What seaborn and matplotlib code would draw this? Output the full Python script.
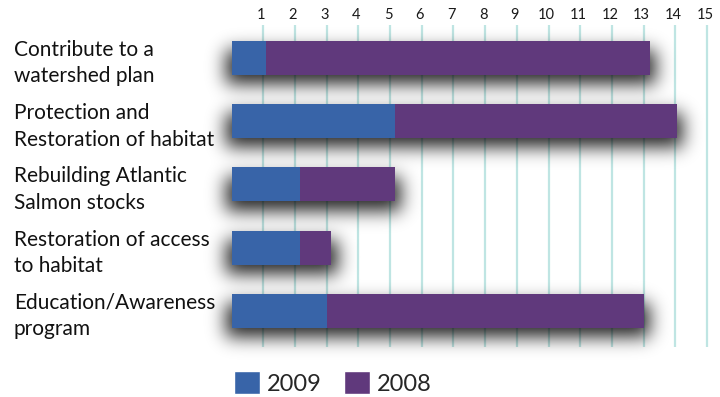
import matplotlib
matplotlib.use("Agg")
import matplotlib.pyplot as plt
import matplotlib.transforms as mtransforms
from matplotlib.patches import Patch
import seaborn as sns
import pandas as pd
import numpy as np

categories = ["Contribute to a\nwatershed plan",
              "Protection and\nRestoration of habitat",
              "Rebuilding Atlantic\nSalmon stocks",
              "Restoration of access\nto habitat",
              "Education/Awareness\nprogram"]
values_2009 = [1.1, 5.15, 2.15, 2.15, 3.0]
values_2008 = [12.1, 8.9, 3.0, 1.0, 10.0]
tick_values = list(range(1, 16))

BLUE = "#3864a8"
PURPLE = "#60397c"
GRID = "#bfe5e3"

df = pd.DataFrame({"category": categories,
                   "y2009": values_2009,
                   "y2008": values_2008})
df["total"] = df["y2009"] + df["y2008"]

sns.set_theme(style="white")
plt.rcParams["font.family"] = ["Lato", "DejaVu Sans"]

fig = plt.figure(figsize=(7.2, 3.97), dpi=100)
ax = fig.add_axes([231.6 / 720, 1 - 347 / 397, 483.4 / 720, 322 / 397])

sns.barplot(data=df, y="category", x="total", color=PURPLE, saturation=1,
            width=0.54, orient="h", errorbar=None, ax=ax, zorder=3)
n_total = len(ax.patches)
sns.barplot(data=df, y="category", x="y2009", color=BLUE, saturation=1,
            width=0.54, orient="h", errorbar=None, ax=ax, zorder=4)
for p in ax.patches:
    p.set_linewidth(0)

XLIM = (0, 15.25)
YLIM = (4.57, -0.52)
ax.set_xlim(*XLIM)
ax.set_ylim(*YLIM)

# ---- soft drop shadow: blur of the bar shapes (taken from the drawn patches)
bbox = ax.get_window_extent()
px_x = bbox.width / (XLIM[1] - XLIM[0])
px_y = bbox.height / (YLIM[0] - YLIM[1])
gx0, gx1, gy0, gy1 = -1.5, 15.9, -0.8, 5.2
xs = np.arange(gx0, gx1, 1 / px_x)
ys = np.arange(gy0, gy1, 1 / px_y)
XX, YY = np.meshgrid(xs, ys)
mask = np.zeros_like(XX)
drop = 9 / px_y
grow = 6 / px_x
for p in ax.patches[:n_total]:
    x, y, w, h = p.get_x(), p.get_y(), p.get_width(), p.get_height()
    mask[(XX >= x - grow) & (XX <= x + w + grow) &
         (YY >= y + drop) & (YY <= y + h + drop)] = 1.0
sigma = 9.0
k = np.arange(-3 * sigma, 3 * sigma + 1)
kern = np.exp(-k ** 2 / (2 * sigma ** 2))
kern /= kern.sum()
blur = np.apply_along_axis(lambda r: np.convolve(r, kern, mode="same"), 1, mask)
blur = np.apply_along_axis(lambda c: np.convolve(c, kern, mode="same"), 0, blur)
rgba = np.zeros(blur.shape + (4,))
rgba[..., 3] = np.clip(blur * 1.1, 0, 1) * 0.78
ax.imshow(rgba, extent=(gx0, gx1, gy1, gy0), origin="upper", aspect="auto",
          interpolation="bilinear", zorder=2, clip_on=False)
ax.set_xlim(*XLIM)
ax.set_ylim(*YLIM)

ax.set_xticks(tick_values)
ax.set_xticklabels([str(t) for t in tick_values])
ax.xaxis.tick_top()
ax.grid(axis="x", color=GRID, linewidth=1.6, zorder=0)
ax.grid(axis="y", visible=False)
ax.set_axisbelow(True)
for s in ax.spines.values():
    s.set_visible(False)
ax.set_xlabel("")
ax.set_ylabel("")
ax.tick_params(axis="x", length=0, pad=2.5, labelsize=10.5, colors="#1a1a1a")
ax.tick_params(axis="y", length=0, pad=156.7, labelsize=15, colors="#111111")
shift = mtransforms.ScaledTranslation(-1.5 / 72, 0, fig.dpi_scale_trans)
for lab in ax.get_xticklabels():
    lab.set_transform(lab.get_transform() + shift)
for lab in ax.get_yticklabels():
    lab.set_ha("left")
    lab.set_multialignment("left")
    lab.set_linespacing(1.4)

handles = [Patch(facecolor=BLUE, label="2009"), Patch(facecolor=PURPLE, label="2008")]
fig.legend(handles=handles, loc="center", bbox_to_anchor=(333 / 720, 1 - 383 / 397),
           ncol=2, frameon=False, fontsize=17, handlelength=1.1, handleheight=1.1,
           handletextpad=0.3, columnspacing=0.95, borderpad=0)

fig.savefig("out.png", dpi=100, facecolor="white")
